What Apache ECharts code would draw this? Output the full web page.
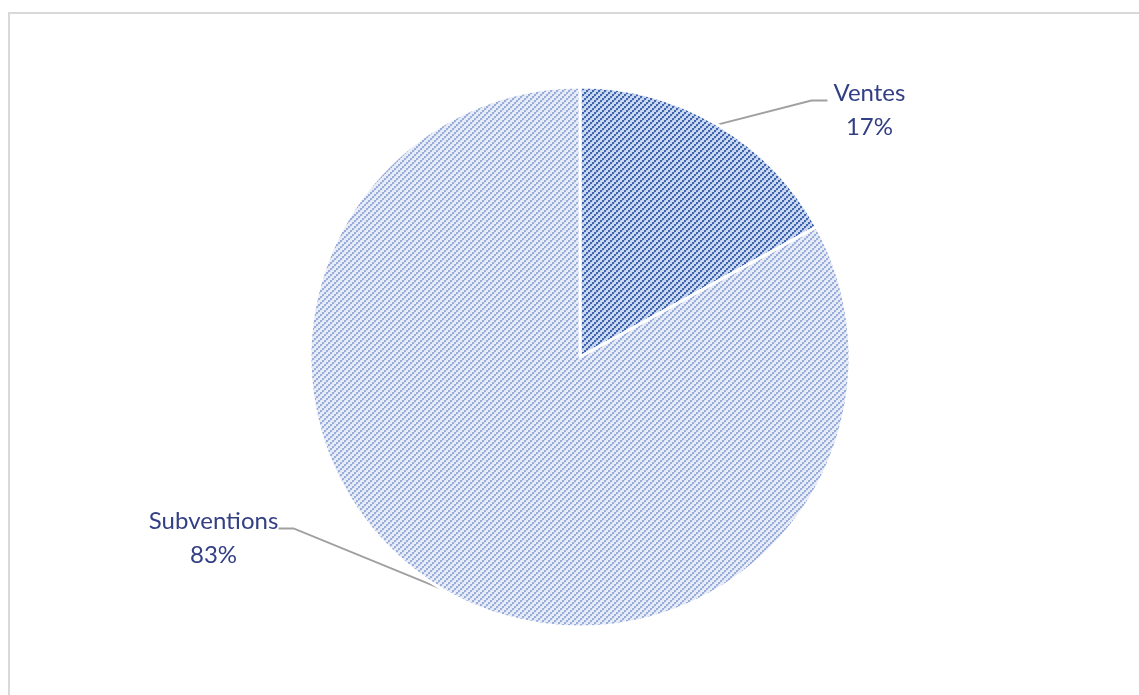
<!DOCTYPE html>
<html>
<head>
<meta charset="utf-8">
<title>Ventes / Subventions</title>
<script src="https://cdn.jsdelivr.net/npm/echarts@6/dist/echarts.min.js"></script>
<style>
  html, body { margin: 0; padding: 0; background: #ffffff; }
  #chart { width: 1139px; height: 695px; }
</style>
</head>
<body>
<div id="chart"></div>
<script>
// Revenue split
const categories = ['Ventes', 'Subventions'];
const values = [17, 83];

// Dotted rising-diagonal hatch tile used as a slice fill
function hatch(bg, dot, soft) {
  const N = 6;
  const c = document.createElement('canvas');
  c.width = N; c.height = N;
  const g = c.getContext('2d');
  g.fillStyle = bg;
  g.fillRect(0, 0, N, N);
  function put(color, x, y, w, h) {
    g.fillStyle = color;
    for (let ox = -N; ox <= N; ox += N) {
      for (let oy = -N; oy <= N; oy += N) {
        g.fillRect(x + ox, y + oy, w, h);
      }
    }
  }
  // 2x2 dots stepping up and to the right, softened at the joints
  for (let k = 0; k < N; k += 2) {
    put(soft, k + 2, N - 2 - k, 1, 1);
    put(dot, k, N - 2 - k, 2, 2);
  }
  return { image: c, repeat: 'repeat' };
}

const fills = [
  hatch('#ccd8f0', '#3f66ad', '#9bb1dd'),
  hatch('#e8ecf7', '#9aaedc', '#ccd6ee')
];

const CENTER = [580, 357];
const RADIUS = 270;

// label placement relative to each slice's line anchor
const labelOffsets = [
  { text: [152, -14], bend: [94, -24], end: [110, -24] },
  { text: [-229, -51], bend: [-149, -61], end: [-164, -61] }
];

const chart = echarts.init(document.getElementById('chart'), null, { renderer: 'canvas' });

chart.setOption({
  animation: false,
  backgroundColor: '#ffffff',
  graphic: [{
    type: 'rect',
    silent: true,
    shape: { x: 9, y: 13, width: 1300, height: 900 },
    style: { fill: 'none', stroke: '#d9d9d9', lineWidth: 2 }
  }],
  series: [{
    type: 'pie',
    center: CENTER,
    radius: [0, RADIUS],
    startAngle: 90,
    clockwise: true,
    avoidLabelOverlap: false,
    data: categories.map(function (name, i) {
      return { name: name, value: values[i], itemStyle: { color: fills[i] } };
    }),
    itemStyle: { borderColor: '#ffffff', borderWidth: 3 },
    label: {
      show: true,
      position: 'outside',
      formatter: '{b}\n{d}%',
      fontFamily: 'Lato',
      fontSize: 24,
      lineHeight: 34,
      color: '#333f85',
      align: 'center'
    },
    labelLine: {
      show: true,
      length: 20,
      length2: 15,
      smooth: false,
      lineStyle: { color: '#a0a0a0', width: 2 }
    },
    labelLayout: function (params) {
      const o = labelOffsets[params.dataIndex];
      const a = params.labelLinePoints[0];
      return {
        x: a[0] + o.text[0],
        y: a[1] + o.text[1],
        align: 'center',
        verticalAlign: 'middle',
        labelLinePoints: [
          [a[0], a[1]],
          [a[0] + o.bend[0], a[1] + o.bend[1]],
          [a[0] + o.end[0], a[1] + o.end[1]]
        ]
      };
    },
    emphasis: { disabled: true }
  }]
});
</script>
</body>
</html>
